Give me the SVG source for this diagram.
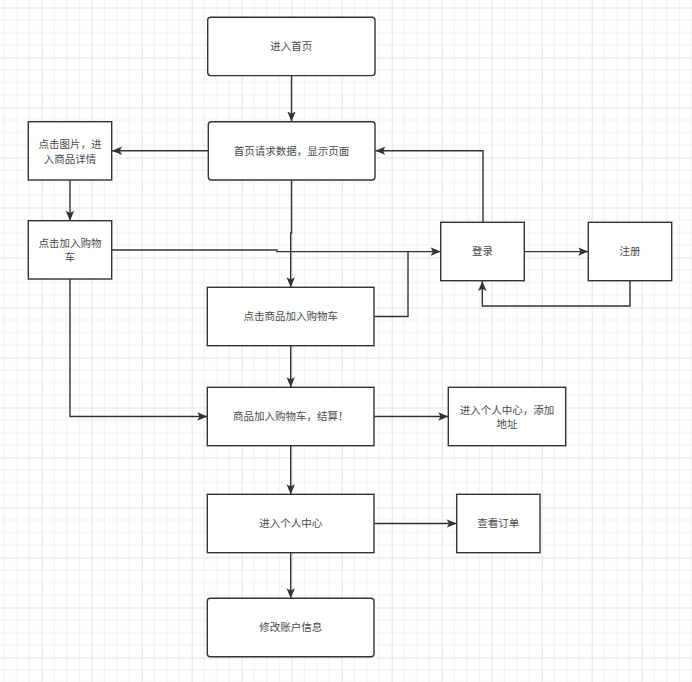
<svg xmlns="http://www.w3.org/2000/svg" width="692" height="682" viewBox="0 0 692 682">
<defs>
<pattern id="grid" patternUnits="userSpaceOnUse" x="41.7" y="57.5" width="50" height="50">
<path d="M12.5 0V50M25 0V50M37.5 0V50M0 12.5H50M0 25H50M0 37.5H50" stroke="#f0f0f0" stroke-width="1" fill="none"/>
<path d="M0.5 0V50M0 0.5H50" stroke="#e4e4e4" stroke-width="1" fill="none"/>
</pattern>
<marker id="arr" markerUnits="userSpaceOnUse" markerWidth="12" markerHeight="10" viewBox="0 0 12 10" refX="10" refY="5" orient="auto">
<path d="M0,0.8 L10,5 L0,9.2 L2.2,5 Z" fill="#333"/>
</marker>
</defs>
<style>
.n{fill:#fff;stroke:#333;stroke-width:1.4}
.t{font-family:"Noto Sans CJK SC","Noto Sans",sans-serif;font-size:10.5px;fill:#4a4a4a;text-anchor:middle}
.c{fill:none;stroke:#333;stroke-width:1.4;marker-end:url(#arr)}
.cl{fill:none;stroke:#333;stroke-width:1.4}
</style>
<rect width="692" height="682" fill="#fff"/>
<rect width="692" height="682" fill="url(#grid)"/>
<g id="connectors">
<path class="c" d="M291.5 75.5V121.5"/>
<path class="c" d="M208.3 150.8H112"/>
<path class="c" d="M70 180V220.7"/>
<path class="c" d="M291.5 180V233H290.7V287.3"/>
<path class="c" d="M111.7 250H277V251.6H440.7"/>
<path class="cl" d="M374 316.5H408V251.6"/>
<path class="c" d="M483 222.3V150.8H375.3"/>
<path class="c" d="M524.3 251.6H588.3"/>
<path class="c" d="M630 280.7V306H482.3V280.9"/>
<path class="c" d="M70 279V416.5H207.3"/>
<path class="c" d="M290.7 345.7V387.3"/>
<path class="c" d="M374 416.5H448.3"/>
<path class="c" d="M290.7 445.7V494.3"/>
<path class="c" d="M374 523.5H456.7"/>
<path class="c" d="M290.7 552.7V598.3"/>
</g>
<g id="n1"><rect class="n" x="207.7" y="17.3" width="167.3" height="58.3" rx="3"/><text class="t" x="291.3" y="50.3">进入首页</text></g>
<g id="n2"><rect class="n" x="208.3" y="121.7" width="166.7" height="58.3" rx="3"/><text class="t" x="291.6" y="154.8">首页请求数据，显示页面</text></g>
<g id="n3"><rect class="n" x="28.3" y="121.7" width="83.4" height="58.3"/><text class="t" x="70" y="148.4">点击图片，进</text><text class="t" x="70" y="162.6">入商品详情</text></g>
<g id="n4"><rect class="n" x="28.3" y="220.7" width="83.4" height="58.3"/><text class="t" x="70" y="246.8">点击加入购物</text><text class="t" x="70" y="261">车</text></g>
<g id="n5"><rect class="n" x="207.3" y="287.3" width="166.7" height="58.4"/><text class="t" x="290.7" y="320.4">点击商品加入购物车</text></g>
<g id="n6"><rect class="n" x="207.3" y="387.3" width="166.7" height="58.4"/><text class="t" x="290.7" y="420.4">商品加入购物车，结算！</text></g>
<g id="n7"><rect class="n" x="448.3" y="387.3" width="117.4" height="58.4"/><text class="t" x="507" y="414.2">进入个人中心，添加</text><text class="t" x="507" y="428.4">地址</text></g>
<g id="n8"><rect class="n" x="207.3" y="494.3" width="166.7" height="58.4"/><text class="t" x="290.7" y="527.4">进入个人中心</text></g>
<g id="n9"><rect class="n" x="456.7" y="494.3" width="83.3" height="58.4"/><text class="t" x="498.3" y="527.4">查看订单</text></g>
<g id="n10"><rect class="n" x="207.3" y="598.3" width="166.7" height="58.4" rx="3"/><text class="t" x="290.7" y="631.4">修改账户信息</text></g>
<g id="n11"><rect class="n" x="440.7" y="222.3" width="83.6" height="58.4"/><text class="t" x="482.5" y="255.4">登录</text></g>
<g id="n12"><rect class="n" x="588.3" y="222.3" width="83.4" height="58.4"/><text class="t" x="630" y="255.4">注册</text></g>
</svg>
